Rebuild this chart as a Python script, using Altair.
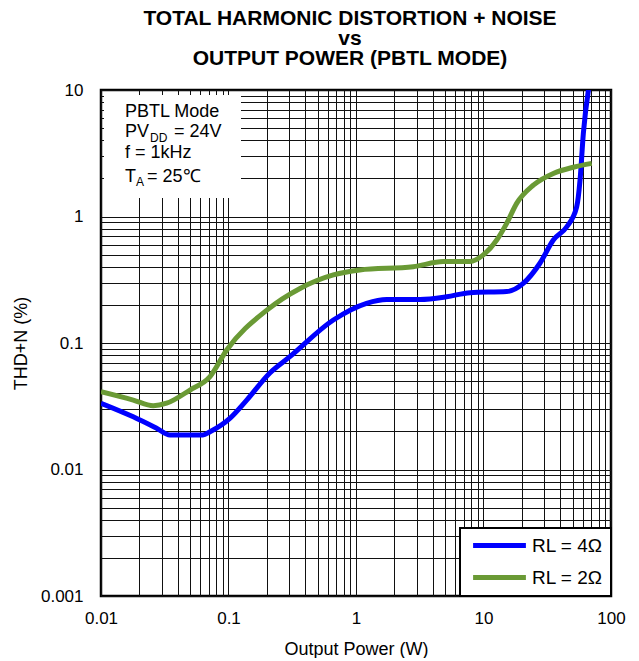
import altair as alt
import pandas as pd

# ---- data ----
power_4 = [0.01, 0.0179, 0.0273, 0.0347, 0.063, 0.0716, 0.103, 0.139, 0.211, 0.303,
           0.664, 1.21, 1.74, 3.18, 5.14, 7.83, 15.2, 20.5, 27.7, 35.3, 45, 53.8, 57.2,
           60.7, 67]
thd_4 = [0.0334, 0.0261, 0.0212, 0.01875, 0.01875, 0.0199, 0.0255, 0.0354, 0.058, 0.078,
         0.152, 0.206, 0.221, 0.221, 0.232, 0.25, 0.255, 0.296, 0.427, 0.652, 0.83, 1.19, 1.95,
         4.55, 10.5]

power_2 = [0.01, 0.0179, 0.0257, 0.0327, 0.0499, 0.0716, 0.0968, 0.2, 0.364, 0.664,
           1.07, 2.81, 4.84, 7.83, 9.96, 12.7, 15.2, 18.2, 24.6, 35.3, 50.7, 70.6]
thd_2 = [0.0412, 0.0354, 0.0319, 0.0334, 0.0425, 0.0542, 0.0881, 0.182, 0.27, 0.345,
         0.378, 0.401, 0.44, 0.44, 0.497, 0.652, 0.883, 1.27, 1.77, 2.19, 2.45, 2.63]

series_names = ["RL = 4\u03a9", "RL = 2\u03a9"]
series_colors = ["#0000FF", "#6A9A35"]

x_ticks = [round(m * 10 ** k, 6) for k in range(-2, 2) for m in range(1, 10)] + [100]
y_ticks = [round(m * 10 ** k, 6) for k in range(-3, 1) for m in range(1, 10)] + [10]
major_labels = ["0.001", "0.01", "0.1", "1", "10", "100"]

title_lines = ["TOTAL HARMONIC DISTORTION + NOISE", "vs", "OUTPUT POWER (PBTL MODE)"]

# ---- table ----
rows = []
for i, (p, t) in enumerate(zip(power_4, thd_4)):
    rows.append({"series": series_names[0], "power": p, "thd": t, "idx": i})
for i, (p, t) in enumerate(zip(power_2, thd_2)):
    rows.append({"series": series_names[1], "power": p, "thd": t, "idx": i})
df = pd.DataFrame(rows)

FONT = "Liberation Sans"
label_expr = "indexof(" + str(major_labels) + ", datum.label) >= 0 ? datum.label : ''"

x_enc = alt.X("power:Q",
              scale=alt.Scale(type="log", domain=[0.01, 100], nice=False),
              axis=alt.Axis(values=x_ticks, format="~g", labelExpr=label_expr,
                            title="Output Power (W)", grid=True, ticks=False, tickSize=0,
                            domain=False, labelPadding=14, titlePadding=14,
                            labelOverlap=False, labelBound=False, labelFlush=False))
y_enc = alt.Y("thd:Q",
              scale=alt.Scale(type="log", domain=[0.001, 10], nice=False),
              axis=alt.Axis(values=y_ticks, format="~g", labelExpr=label_expr,
                            title="THD+N (%)", grid=True, ticks=False, tickSize=0,
                            domain=False, labelPadding=18, titlePadding=10,
                            labelOverlap=False, labelBound=False, labelFlush=False))

lines = alt.Chart(df).mark_line(strokeWidth=5, clip=True, interpolate="monotone").encode(
    x=x_enc,
    y=y_enc,
    color=alt.Color("series:N",
                    scale=alt.Scale(domain=series_names, range=series_colors),
                    legend=alt.Legend(title=None, orient="bottom-right", offset=0,
                                      fillColor="white", strokeColor="black",
                                      padding=8, symbolType="M-4.4,0H4.4", symbolSize=144,
                                      symbolStrokeWidth=5, symbolOffset=22,
                                      labelFontSize=19, labelFont=FONT,
                                      labelColor="black", labelOffset=23,
                                      rowPadding=11)),
    order="idx:Q",
)

dummy = pd.DataFrame({"a": [0]})
box = alt.Chart(dummy).mark_rect(fill="white").encode(
    x=alt.value(3), x2=alt.value(140), y=alt.value(5), y2=alt.value(108))


def txt(s, x, y, size=18):
    return alt.Chart(dummy).mark_text(text=s, align="left", baseline="alphabetic",
                                      font=FONT, fontSize=size, color="black").encode(
        x=alt.value(x), y=alt.value(y))


notes = [
    txt("PBTL Mode", 24, 27),
    txt("PV", 24, 47),
    txt("DD", 49, 52, 12),
    txt("= 24V", 73, 47),
    txt("f = 1kHz", 24, 68),
    txt("T", 24, 92),
    txt("A", 35, 96, 12),
    txt("= 25\u2103", 46, 92),
]

chart = alt.layer(box, lines, *notes).properties(
    width=510, height=506,
    autosize=alt.AutoSizeParams(type="none"),
    padding={"left": 93, "top": 82, "right": 20, "bottom": 62},
    title=alt.Title(title_lines, fontSize=21, font=FONT, fontWeight="bold",
                    lineHeight=20, anchor="middle", frame="group", offset=12,
                    dx=-6, color="black"),
).configure_view(
    stroke="black", strokeWidth=2.5
).configure_axis(
    gridColor="#111", gridWidth=1, gridOpacity=1,
    labelFont=FONT, labelFontSize=17, labelColor="black",
    titleFont=FONT, titleFontSize=18, titleFontWeight="normal", titleColor="black",
).configure_legend(
    strokeWidth=2
)

chart.save("out.html", embed_options={"renderer": "svg", "actions": False})
